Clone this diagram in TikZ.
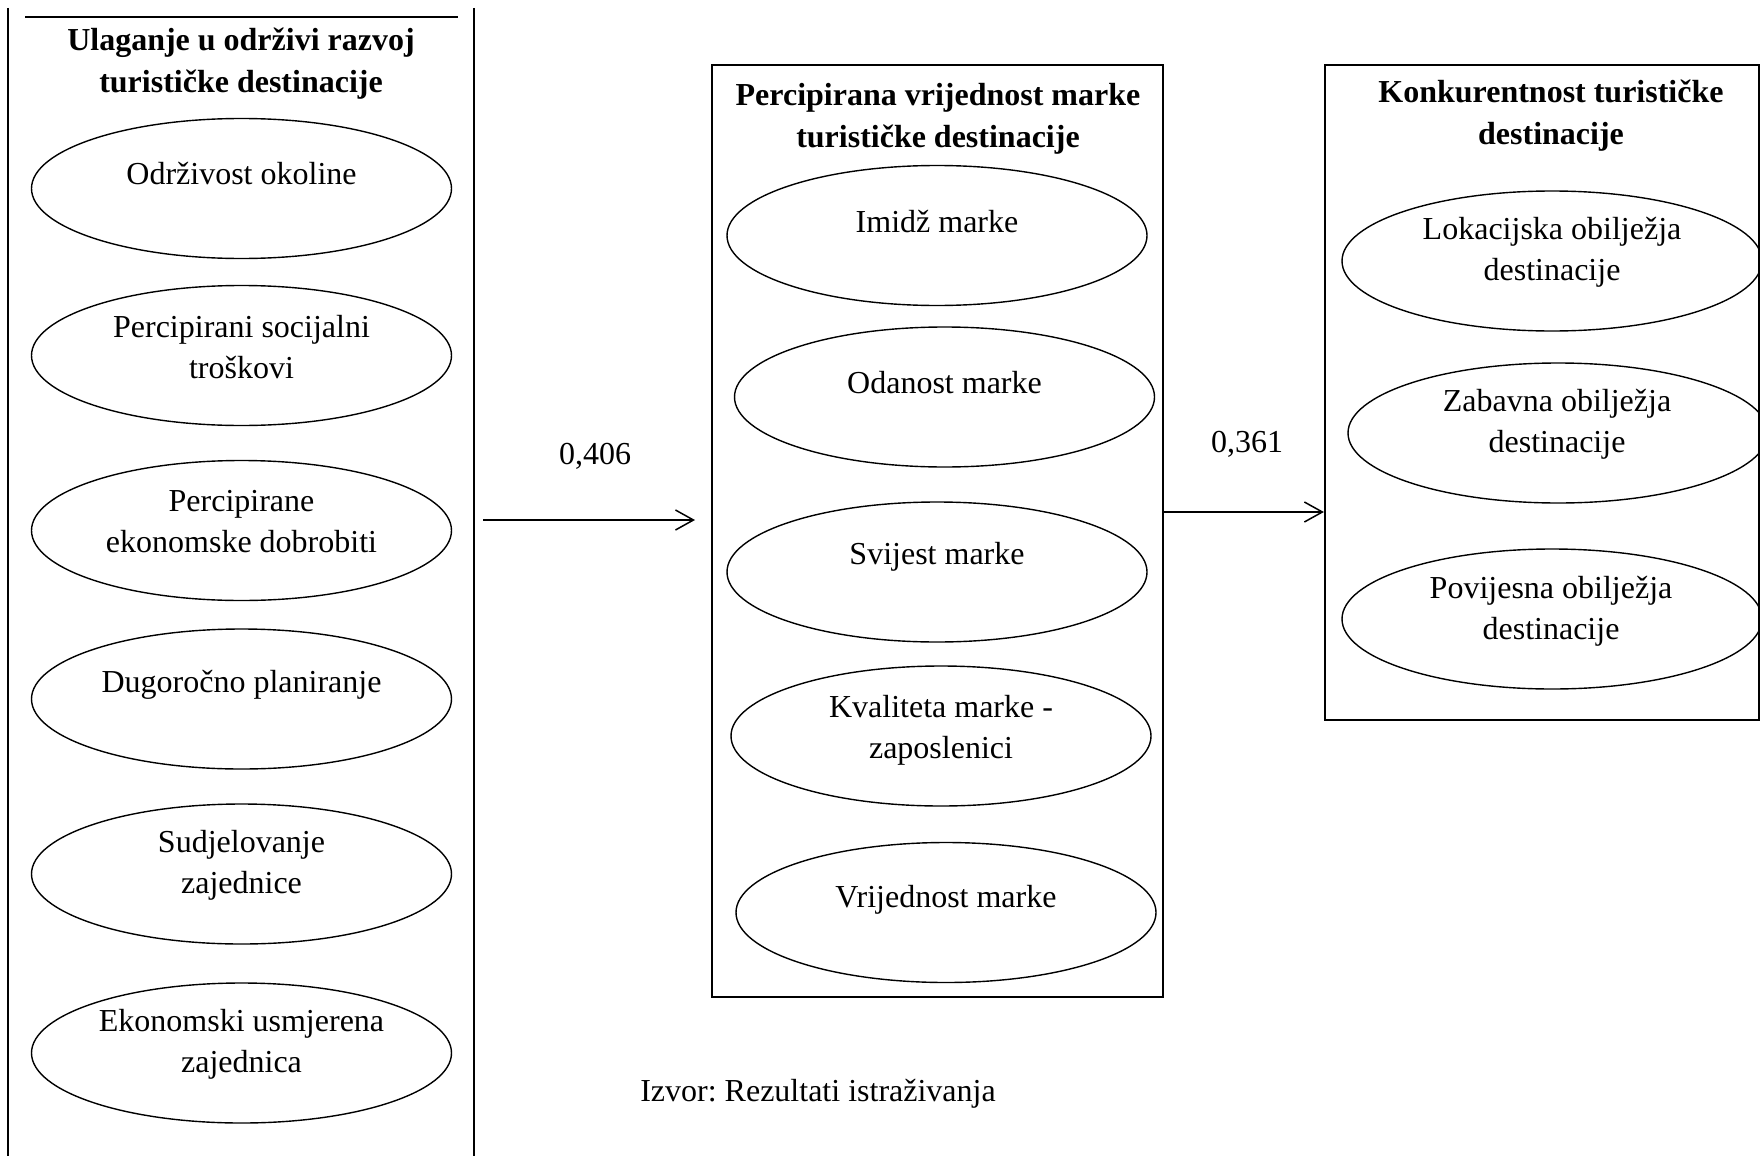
\documentclass[tikz,border=0pt]{standalone}
\usepackage{fontspec}
\setmainfont{Liberation Serif}
\usetikzlibrary{arrows.meta,shapes.geometric}
\frenchspacing
\begin{document}
\begin{tikzpicture}[x=0.5pt,y=-0.5pt,
  oval/.style={draw,ellipse,line width=0.7pt,minimum width=210pt,minimum height=70pt,inner sep=0pt},
  lbl/.style={align=center,font=\fontsize{16}{20.5}\selectfont,inner sep=0pt},
  ttl/.style={align=center,font=\bfseries\fontsize{16}{21}\selectfont,inner sep=0pt},
  frame/.style={draw,line width=1.1pt,inner sep=0pt},
  side/.style={line width=0.6pt},
  arr/.style={-{Straight Barb[length=9pt,width=10pt]},line width=0.75pt}]
\useasboundingbox (0,0) rectangle (1760,1156);

% left column
\coordinate (lt1) at (8,8);   \coordinate (lb1) at (8,1156);
\coordinate (lt2) at (474,8); \coordinate (lb2) at (474,1156);
\coordinate (hl1) at (25,17); \coordinate (hl2) at (458,17);
\draw[side] (lt1) -- (lb1);
\draw[side] (lt2) -- (lb2);
\draw[side] (hl1) -- (hl2);
\node[ttl] (ltitle) at (241,64) {Ulaganje u održivi razvoj\\turističke destinacije};

\node[oval] (e1) at (241.5,188.5) {};
\node[oval] (e2) at (241.5,355.5) {};
\node[oval] (e3) at (241.5,530.5) {};
\node[oval] (e4) at (241.5,699) {};
\node[oval] (e5) at (241.5,874) {};
\node[oval] (e6) at (241.5,1053) {};
\node[lbl] (t1) at (241.5,174) {Održivost okoline};
\node[lbl] (t2) at (241.5,347.5) {Percipirani socijalni\\troškovi};
\node[lbl] (t3) at (241.5,521.5) {Percipirane\\ekonomske dobrobiti};
\node[lbl] (t4) at (241.5,685) {Dugoročno planiranje};
\node[lbl] (t5) at (241.5,865.5) {Sudjelovanje\\zajednice};
\node[lbl] (t6) at (241.5,1044.5) {Ekonomski usmjerena\\zajednica};

% middle column
\node[frame,minimum width=225.5pt,minimum height=466pt] (mid) at (937.5,531) {};
\node[ttl] (mtitle) at (938,118.5) {Percipirana vrijednost marke\\turističke destinacije};
\node[oval] (m1) at (937,235.5) {};
\node[oval] (m2) at (944.5,397) {};
\node[oval] (m3) at (937,572) {};
\node[oval] (m4) at (941,736) {};
\node[oval] (m5) at (946,912.5) {};
\node[lbl] (u1) at (937,222) {Imidž marke};
\node[lbl] (u2) at (944.5,383) {Odanost marke};
\node[lbl] (u3) at (937,557) {Svijest marke};
\node[lbl] (u4) at (941,730) {Kvaliteta marke -\\zaposlenici};
\node[lbl] (u5) at (946,900) {Vrijednost marke};

% right column
\node[frame,minimum width=217pt,minimum height=327.5pt] (rgt) at (1542,392.5) {};
\node[ttl] (rtitle) at (1551,116) {Konkurentnost turističke\\destinacije};
\node[oval] (r1) at (1552,261) {};
\node[oval] (r2) at (1558,433) {};
\node[oval] (r3) at (1552,619) {};
\node[lbl] (v1) at (1552,252.5) {Lokacijska obilježja\\destinacije};
\node[lbl] (v2) at (1557,424) {Zabavna obilježja\\destinacije};
\node[lbl] (v3) at (1551,611) {Povijesna obilježja\\destinacije};

% connectors
\coordinate (a1s) at (483,520);
\coordinate (a1e) at (695,520);
\draw[arr] (a1s) -- (a1e);
\node[lbl] (w1) at (595,456) {0,406};
\coordinate (a2s) at (1163,512);
\draw[arr] (a2s) -- (rgt.west |- a2s);
\node[lbl] (w2) at (1247,444) {0,361};

\node[lbl] (src) at (818,1094) {Izvor: Rezultati istraživanja};
\end{tikzpicture}
\end{document}
